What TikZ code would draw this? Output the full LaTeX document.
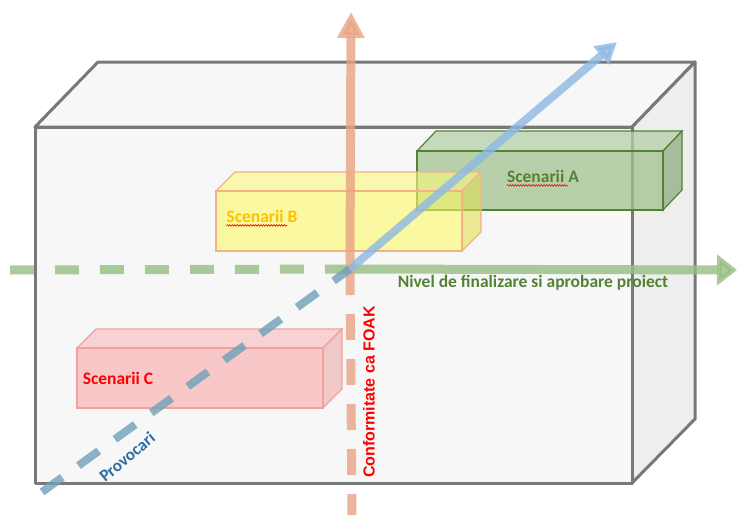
\documentclass[tikz,border=0pt]{standalone}
\usepackage{fontspec}
\setmainfont{Carlito}
\newfontfamily\arialfont{Liberation Sans}
\usetikzlibrary{arrows.meta,decorations.pathmorphing}

\definecolor{boxgray}{RGB}{120,120,120}
\definecolor{boxface}{RGB}{247,247,247}
\definecolor{boxside}{RGB}{238,238,238}
\definecolor{aFront}{RGB}{163,195,144}
\definecolor{aTop}{RGB}{181,207,169}
\definecolor{aSide}{RGB}{144,171,131}
\definecolor{aLine}{RGB}{84,130,53}
\definecolor{bFront}{RGB}{252,249,102}
\definecolor{bTop}{RGB}{252,249,127}
\definecolor{bSide}{RGB}{222,222,85}
\definecolor{bLine}{RGB}{244,177,131}
\definecolor{cFront}{RGB}{249,169,169}
\definecolor{cTop}{RGB}{249,186,186}
\definecolor{cSide}{RGB}{236,169,169}
\definecolor{cLine}{RGB}{245,160,160}
\definecolor{greenAxis}{RGB}{150,190,130}
\definecolor{orangeAxis}{RGB}{232,164,131}
\definecolor{blueAxis}{RGB}{141,185,228}
\definecolor{blueDash}{RGB}{111,160,184}
\definecolor{textGreen}{RGB}{84,130,53}
\definecolor{textGold}{RGB}{255,192,0}
\definecolor{textBlue}{RGB}{46,109,164}

\begin{document}
\begin{tikzpicture}[x=1pt,y=1pt]
\tikzstyle{every node}+=[inner sep=0pt]
\tikzstyle{lbl}=[font=\bfseries\fontsize{17.5}{20}\selectfont]
\tikzstyle{wavy}=[red, line width=0.6pt, decorate, decoration={snake,amplitude=0.8pt,segment length=2.6pt}]
\tikzstyle{axis}=[line width=9pt, opacity=0.8]
\tikzstyle{frame}=[boxgray, line width=3pt, line join=round]
\useasboundingbox (0,0) rectangle (737,-515);
% outer box
\draw [frame, fill=boxface] (35,-127) -- (98,-62) -- (695,-62) -- (632,-127) -- cycle;
\draw [frame, fill=boxside] (632,-127) -- (695,-62) -- (695,-419) -- (632,-483) -- cycle;
\draw [frame, fill=boxface] (35,-127) rectangle (632,-483);
% scenarii C
\draw [cLine, fill=cTop, fill opacity=0.6, line width=1.2pt] (77,-348) -- (96,-329) -- (342,-329) -- (323,-348) -- cycle;
\draw [cLine, fill=cSide, fill opacity=0.6, line width=1.2pt] (323,-348) -- (342,-329) -- (342,-389) -- (323,-408) -- cycle;
\draw [cLine, fill=cFront, fill opacity=0.6, line width=1.2pt] (77,-348) rectangle (323,-408);
% scenarii A
\draw [aLine, fill=aTop, fill opacity=0.75, line width=1.2pt] (417,-151) -- (436,-131) -- (682,-131) -- (663,-151) -- cycle;
\draw [aLine, fill=aSide, fill opacity=0.75, line width=1.2pt] (663,-151) -- (682,-131) -- (682,-190) -- (663,-210) -- cycle;
\draw [aLine, fill=aFront, fill opacity=0.75, line width=1.2pt] (417,-151) rectangle (663,-210);
% scenarii B
\draw [bLine, fill=bTop, fill opacity=0.6, line width=1.2pt] (216,-191) -- (235,-172) -- (481,-172) -- (462,-191) -- cycle;
\draw [bLine, fill=bSide, fill opacity=0.6, line width=1.2pt] (462,-191) -- (481,-172) -- (481,-232) -- (462,-251) -- cycle;
\draw [bLine, fill=bFront, fill opacity=0.6, line width=1.2pt] (216,-191) rectangle (462,-251);
% axes
\coordinate (O) at (350,-269);
\coordinate (gStart) at (10,-270);
\coordinate (gTip) at (737,-270);
\coordinate (oTip) at (351,-12);
\coordinate (oEnd) at (352,-515);
\coordinate (bStart) at (42,-492);
\coordinate (bTip) at (617,-42);
\draw [axis, greenAxis, dash pattern=on 24pt off 21pt] (gStart) -- (O);
\draw [axis, greenAxis, -{Triangle[length=20pt,width=30pt]}] (O) -- (gTip);
\draw [axis, orangeAxis, dash pattern=on 26pt off 19pt] (O) -- (oEnd);
\draw [axis, orangeAxis, -{Triangle[length=26pt,width=26pt]}] (O) -- (oTip);
\draw [axis, blueDash, line width=8pt, dash pattern=on 25pt off 20pt] (bStart) -- (O);
\draw [axis, blueAxis, line width=8pt, -{Triangle[length=21pt,width=23pt]}] (O) -- (bTip);
% labels
\node [lbl, textGreen] (tA) at (543,-176) {Scenarii A};
\node [lbl, textGold] (tB) at (262,-216) {Scenarii B};
\node [lbl, red] (tC) at (118,-378) {Scenarii C};
\node [lbl, textGreen, anchor=base] (tNivel) at (533,-287) {Nivel de finalizare si aprobare proiect};
\node [red, font=\arialfont\bfseries\fontsize{16}{18}\selectfont, rotate=90] (tFoak) at (369,-392) {Conformitate ca FOAK};
\node [textBlue, font=\bfseries\fontsize{17}{19}\selectfont, rotate=40] (tProv) at (127,-457) {Provocari};
\draw [wavy] ([yshift=-3pt]tA.south west) -- ++(61,0);
\draw [wavy] ([yshift=-3pt]tB.south west) -- ++(61,0);
\end{tikzpicture}
\end{document}
